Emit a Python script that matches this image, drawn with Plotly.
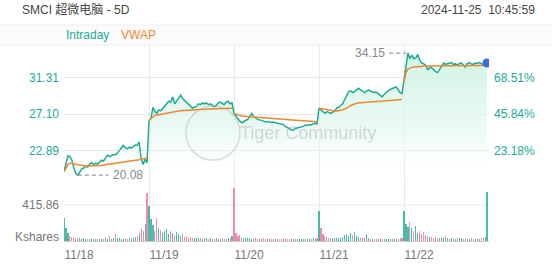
import plotly.graph_objects as go

# ---------------- data ----------------
days = ["11/18", "11/19", "11/20", "11/21", "11/22"]
prev_close = 18.582
price_ticks = [22.89, 27.10, 31.31]
pct_tick_labels = ["23.18%", "45.84%", "68.51%"]
vol_tick = 415.86
vol_unit = "Kshares"
high_price = 34.15
low_price = 20.08

price_d1 = [20.47, 21.6, 22.3, 22.2, 21.8, 20.9, 20.25, 20.08, 20.4, 20.8, 20.9, 21.1, 21.0, 21.35,
            21.5, 21.3, 21.45, 21.35, 21.6, 21.8, 21.7, 22.1, 22.39, 22.2, 22.28, 22.45, 22.4, 22.62,
            22.9, 23.2, 23.5, 23.25, 23.1, 23.3, 23.2, 23.35, 23.55, 23.5, 23.9, 22.0, 21.3, 21.9, 21.5]
price_d2 = [26.3, 26.6, 27.9, 27.4, 27.2, 27.6, 27.5, 27.8, 28.0, 28.4, 28.6, 28.5, 29.1, 28.3,
            28.6, 29.0, 29.3, 28.9, 28.7, 28.4, 28.2, 28.0, 27.8, 27.9, 28.0, 28.3, 28.2, 28.4,
            28.3, 28.4, 28.2, 28.3, 28.1, 27.95, 28.1, 28.4, 28.5, 28.3, 28.2, 28.5, 28.6, 28.3, 28.4]
price_d3 = [27.2, 26.9, 26.5, 26.3, 26.1, 26.3, 26.4, 26.5, 26.9, 27.2, 26.8, 26.6, 26.5, 26.45,
            26.4, 26.3, 26.2, 26.25, 26.2, 26.15, 26.2, 26.1, 26.05, 26.0, 25.95, 25.9, 25.7, 25.6,
            25.45, 25.3, 25.25, 25.45, 25.5, 25.55, 25.6, 25.7, 25.85, 25.8, 25.9, 25.85, 26.0, 26.05, 26.0]
price_d4 = [27.8, 27.6, 27.4, 27.2, 27.4, 27.3, 27.2, 27.35, 27.5, 27.8, 27.9, 28.1, 28.3, 28.8,
            29.3, 29.7, 29.8, 29.6, 29.7, 29.9, 30.1, 29.9, 29.8, 29.6, 29.8, 29.9, 29.75, 29.7,
            29.6, 29.65, 29.5, 29.3, 29.1, 29.4, 29.65, 29.8, 29.95, 30.1, 30.15, 30.25, 29.9, 29.6, 29.5]
price_d5 = [30.85, 32.6, 34.15, 33.5, 33.9, 33.5, 33.6, 34.0, 33.3, 33.0, 32.9, 32.75, 32.2, 32.5,
            32.45, 32.2, 32.0, 31.9, 32.3, 32.7, 33.0, 32.85, 32.9, 33.0, 33.05, 32.85, 32.9, 32.75,
            32.95, 33.0, 32.8, 32.55, 32.95, 33.05, 32.9, 32.85, 33.0, 32.95, 33.05, 32.9, 32.85, 33.0, 33.0]

vwap_d1 = [20.47, 20.9, 21.3, 21.45, 21.45, 21.35, 21.3, 21.25, 21.2, 21.18, 21.15, 21.12, 21.12, 21.12,
           21.13, 21.15, 21.15, 21.17, 21.2, 21.22, 21.25, 21.28, 21.3, 21.33, 21.36, 21.4, 21.43, 21.47,
           21.5, 21.53, 21.57, 21.6, 21.63, 21.67, 21.7, 21.74, 21.78, 21.82, 21.86, 21.9, 21.95, 22.0, 22.05]
vwap_d2 = [26.4, 26.6, 26.8, 26.95, 27.0, 27.05, 27.1, 27.15, 27.2, 27.25, 27.3, 27.35, 27.38, 27.41,
           27.44, 27.47, 27.5, 27.52, 27.54, 27.56, 27.58, 27.6, 27.62, 27.63, 27.64, 27.65, 27.66, 27.67,
           27.68, 27.69, 27.7, 27.71, 27.72, 27.72, 27.73, 27.74, 27.75, 27.75, 27.76, 27.77, 27.77, 27.78, 27.78]
vwap_d3 = [27.2, 27.1, 27.0, 26.95, 26.9, 26.87, 26.84, 26.81, 26.79, 26.77, 26.76, 26.75, 26.74, 26.73,
           26.72, 26.71, 26.7, 26.68, 26.66, 26.64, 26.62, 26.6, 26.58, 26.56, 26.54, 26.52, 26.5, 26.48,
           26.46, 26.44, 26.42, 26.4, 26.38, 26.36, 26.34, 26.33, 26.32, 26.31, 26.3, 26.28, 26.26, 26.25, 26.24]
vwap_d4 = [27.8, 27.75, 27.7, 27.65, 27.6, 27.56, 27.53, 27.5, 27.48, 27.48, 27.5, 27.55, 27.62, 27.7,
           27.8, 27.95, 28.1, 28.2, 28.3, 28.36, 28.4, 28.43, 28.45, 28.47, 28.49, 28.5, 28.52, 28.53,
           28.55, 28.57, 28.58, 28.6, 28.62, 28.63, 28.65, 28.67, 28.68, 28.7, 28.72, 28.73, 28.75, 28.77, 28.8]
vwap_d5 = [30.8, 31.9, 32.3, 32.45, 32.5, 32.55, 32.58, 32.6, 32.62, 32.63, 32.64, 32.65, 32.65, 32.66,
           32.66, 32.66, 32.66, 32.66, 32.67, 32.67, 32.67, 32.67, 32.68, 32.68, 32.68, 32.68, 32.68, 32.69,
           32.69, 32.69, 32.69, 32.69, 32.7, 32.7, 32.7, 32.7, 32.7, 32.7, 32.71, 32.71, 32.71, 32.71, 32.71]

vol_d1 = [260, 150, 90, 60, 45, 50, 40, 35, 30, 25, 30, 25, 20, 25, 20, 22, 25, 20, 18, 22, 25, 30,
          20, 60, 25, 30, 80, 40, 30, 25, 20, 30, 25, 30, 40, 35, 45, 60, 90, 140, 120, 200, 555]
vol_d2 = [400, 250, 180, 120, 260, 150, 130, 90, 110, 140, 80, 120, 90, 70, 100, 80, 60, 90, 50, 60, 40,
          45, 35, 40, 30, 35, 30, 25, 30, 35, 25, 30, 28, 25, 30, 22, 25, 30, 28, 25, 35, 40, 60]
vol_d3 = [610, 90, 60, 70, 50, 40, 30, 35, 30, 25, 40, 30, 25, 20, 25, 30, 20, 25, 20, 22, 18, 20,
          25, 20, 18, 22, 20, 25, 20, 18, 25, 20, 22, 20, 18, 20, 25, 22, 20, 25, 30, 28, 35]
vol_d4 = [346, 150, 80, 60, 50, 40, 35, 30, 40, 35, 30, 40, 50, 70, 80, 60, 90, 70, 100, 60, 50, 40,
          35, 30, 80, 30, 25, 20, 25, 20, 22, 20, 18, 20, 25, 20, 22, 25, 20, 22, 25, 30, 35]
vol_d5 = [346, 200, 160, 220, 150, 120, 170, 90, 110, 80, 100, 70, 60, 50, 45, 40, 50, 35, 40, 30, 35,
          60, 30, 25, 40, 30, 25, 30, 35, 30, 25, 30, 28, 25, 30, 28, 25, 30, 28, 30, 35, 45, 566]

price_days = [price_d1, price_d2, price_d3, price_d4, price_d5]
vwap_days = [vwap_d1, vwap_d2, vwap_d3, vwap_d4, vwap_d5]
vol_days = [vol_d1, vol_d2, vol_d3, vol_d4, vol_d5]

# ---------------- build ----------------
TEAL = "#1cab95"
ORANGE = "#f0862f"
GRID = "#e8e8e8"
FONT = "Liberation Sans, Arial, Noto Sans CJK SC, sans-serif"

xs, ps, vx, vy = [], [], [], []
bx, bv, bc = [], [], []
prev = None
for d, (pd_, vd, vo) in enumerate(zip(price_days, vwap_days, vol_days)):
    n = len(pd_)
    for i in range(n):
        x = d + i / n
        xs.append(x); ps.append(pd_[i])
        vx.append(x); vy.append(vd[i])
        bx.append(x); bv.append(vo[i])
        up = prev is None or pd_[i] >= prev
        bc.append("rgba(28,171,149,0.8)" if up else "rgba(239,111,147,0.8)")
        prev = pd_[i]
    vx.append(None); vy.append(None)

p_lo, p_hi = 19.51, 35.08
v_hi = 705

fig = go.Figure()
fig.add_trace(go.Scatter(
    x=xs, y=ps, mode="lines", line=dict(color=TEAL, width=1.5),
    fill="tozeroy",
    fillgradient=dict(type="vertical", start=p_lo, stop=p_hi,
                      colorscale=[[0, "rgba(255,255,255,0)"], [0.35, "rgba(228,248,240,0.7)"],
                                  [1, "rgba(205,243,226,1)"]]),
    xaxis="x", yaxis="y", hoverinfo="skip", showlegend=False))
fig.add_trace(go.Scatter(x=vx, y=vy, mode="lines", line=dict(color=ORANGE, width=1.5),
                         xaxis="x", yaxis="y", showlegend=False))
fig.add_trace(go.Scatter(x=[xs[-1]], y=[ps[-1]], mode="markers",
                         marker=dict(color="#3b6be0", size=9), xaxis="x", yaxis="y", showlegend=False))
fig.add_trace(go.Bar(x=bx, y=bv, marker=dict(color=bc, line=dict(width=0)), width=0.55 / 43,
                     xaxis="x", yaxis="y3", showlegend=False))

# high / low markers
hi_idx = ps.index(max(ps)); lo_idx = ps.index(min(ps))
x_hi, x_lo = xs[hi_idx], xs[lo_idx]
fig.add_shape(type="line", xref="x", yref="y", x0=x_hi - 0.22, x1=x_hi - 0.02, y0=high_price, y1=high_price,
              line=dict(color="#999", width=1.3, dash="4px,3px"))
fig.add_annotation(x=x_hi - 0.25, y=high_price, xref="x", yref="y", text=f"{high_price:.2f}",
                   showarrow=False, xanchor="right", font=dict(color="#888", size=12, family=FONT))
fig.add_shape(type="line", xref="x", yref="y", x0=x_lo, x1=x_lo + 0.36, y0=low_price, y1=low_price,
              line=dict(color="#999", width=1.3, dash="4px,3px"))
fig.add_annotation(x=x_lo + 0.39, y=low_price, xref="x", yref="y", text=f"{low_price:.2f}",
                   showarrow=False, xanchor="left", font=dict(color="#888", size=12, family=FONT))

# volume gridline
fig.add_shape(type="line", xref="x", yref="y3", x0=0, x1=5, y0=vol_tick, y1=vol_tick,
              line=dict(color=GRID, width=1), layer="below")

# header band
fig.add_shape(type="rect", xref="paper", yref="paper", x0=-0.16, x1=1.16, y0=1.0, y1=1.102,
              fillcolor="#fbfbfb", line=dict(color="#efefef", width=1), layer="below")
fig.add_annotation(xref="paper", yref="paper", x=-0.1035, y=1.179, text="SMCI 超微电脑 - 5D",
                   showarrow=False, xanchor="left", yanchor="middle", font=dict(color="#444", size=12, family=FONT))
fig.add_annotation(xref="paper", yref="paper", x=1.113, y=1.179, text="2024-11-25&nbsp;&nbsp;10:45:59",
                   showarrow=False, xanchor="right", yanchor="middle", font=dict(color="#444", size=12, family=FONT))
fig.add_annotation(xref="paper", yref="paper", x=0.0, y=1.051, text="Intraday",
                   showarrow=False, xanchor="left", yanchor="middle", font=dict(color=TEAL, size=12, family=FONT))
fig.add_annotation(xref="paper", yref="paper", x=0.129, y=1.051, text="VWAP",
                   showarrow=False, xanchor="left", yanchor="middle", font=dict(color=ORANGE, size=12, family=FONT))

# watermark
fig.add_shape(type="circle", xref="paper", yref="paper", x0=0.287, x1=0.414, y0=0.413, y1=0.689,
              line=dict(color="rgba(160,160,160,0.35)", width=1.5))
fig.add_annotation(xref="paper", yref="paper", x=0.574, y=0.551, text="Tiger Community", showarrow=False,
                   font=dict(color="rgba(160,160,160,0.4)", size=18, family=FONT))

pct_ticks = [(p / prev_close - 1) * 100 for p in price_ticks]

fig.update_layout(
    width=552, height=265, margin=dict(l=64, r=63, t=45, b=24, autoexpand=False),
    paper_bgcolor="white", plot_bgcolor="white", bargap=0,
    font=dict(family=FONT),
    xaxis=dict(range=[0, 5], anchor="y3", tickvals=[0, 1, 2, 3, 4, 5], ticktext=days + [""],
               showgrid=True, gridcolor=GRID, zeroline=False, showline=True, linecolor="#cccccc",
               ticks="", automargin=False, ticklabelshift=15, ticklabelstandoff=3,
               tickfont=dict(color="#777", size=12)),
    yaxis=dict(domain=[0.311, 1], range=[p_lo, p_hi], tickvals=price_ticks, automargin=False,
               ticktext=[f"{v:.2f}" for v in price_ticks], showgrid=True, gridcolor=GRID,
               zeroline=False, ticks="", ticklabelstandoff=4, tickfont=dict(color=TEAL, size=12)),
    yaxis2=dict(overlaying="y", side="right", anchor="x", automargin=False,
                range=[(p_lo / prev_close - 1) * 100, (p_hi / prev_close - 1) * 100],
                tickvals=pct_ticks, ticktext=pct_tick_labels, showgrid=False,
                zeroline=False, ticks="", ticklabelstandoff=4, tickfont=dict(color=TEAL, size=12)),
    yaxis3=dict(domain=[0, 0.311], range=[0, v_hi], tickvals=[v_hi * 0.075, vol_tick], automargin=False,
                ticktext=[vol_unit, f"{vol_tick:.2f}"], showgrid=False,
                zeroline=False, showline=False, ticks="", ticklabelstandoff=4,
                tickfont=dict(color="#777", size=12)),
)
fig.add_trace(go.Scatter(x=[0], y=[None], xaxis="x", yaxis="y2", showlegend=False))

fig.write_html("out.html")
